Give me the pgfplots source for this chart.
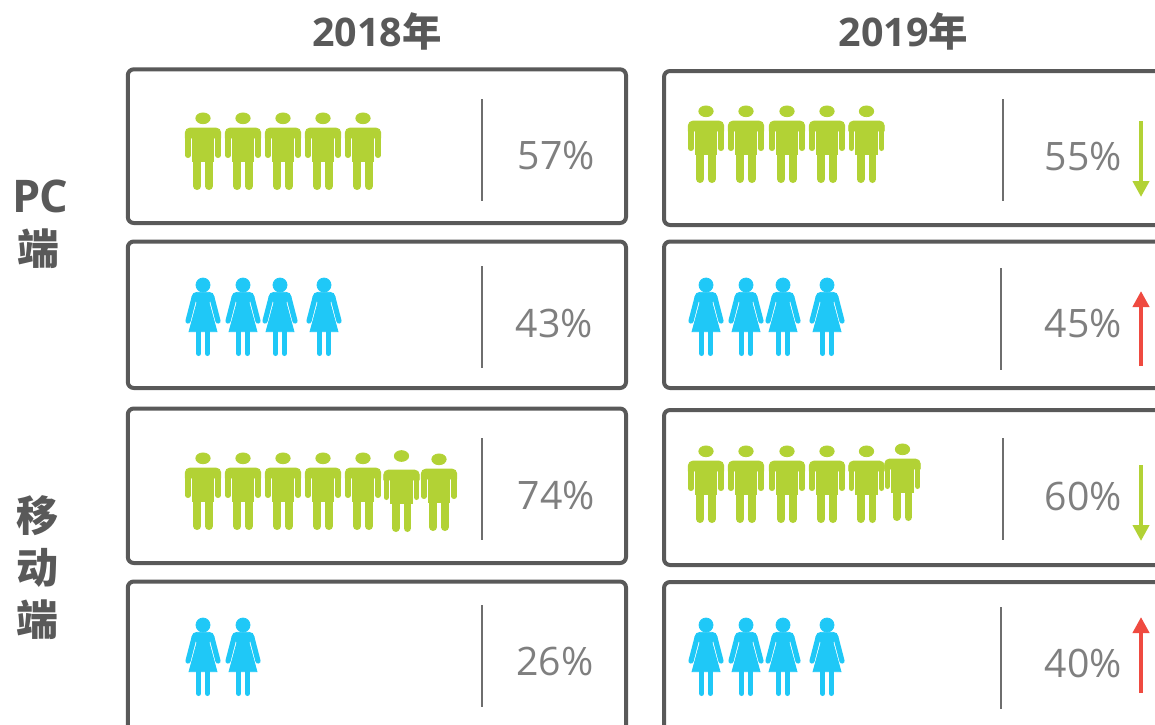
\documentclass[border=0pt]{standalone}
\usepackage{fontspec}
\setmainfont{Open Sans}
\newfontfamily\cjk{Noto Sans CJK SC}
\usepackage{pgfplots}
\pgfplotsset{compat=1.18}
\usetikzlibrary{arrows.meta}

\definecolor{mangreen}{HTML}{B2D235}
\definecolor{womanblue}{HTML}{1FC8F7}
\definecolor{upred}{HTML}{EF4A40}
\definecolor{boxgray}{HTML}{595959}
\definecolor{rulegray}{HTML}{6E6E6E}
\definecolor{pctgray}{HTML}{7F7F7F}

% icons, 1 reference pixel = 0.5pt, y running downwards
\newcommand\manbody{%
    \fill (-17.8,-12) {[rounded corners=2.4pt] -- (-17.8,-22) -- (17.8,-22)} -- (17.8,-12) -- cycle;
    \fill (-10.7,-21) rectangle (10.7,11.7);
    \draw[line width=2.7pt,line cap=round] (-15.1,-14) -- (-15.1,5.3);
    \draw[line width=2.7pt,line cap=round] (15.1,-14) -- (15.1,5.3);
    \draw[line width=3.85pt,line cap=round] (-5.85,10) -- (-5.85,36.15);
    \draw[line width=3.85pt,line cap=round] (5.85,10) -- (5.85,36.15);
}
\pgfdeclareplotmark{man}{%
  \begin{scope}[x=0.5pt,y=-0.5pt,fill=mangreen,draw=mangreen]
    \fill (0,-31.7) ellipse [x radius=7.2,y radius=5.4];
    \manbody
  \end{scope}}
\pgfdeclareplotmark{man low}{% the one figure whose head sits higher above the shoulders
  \begin{scope}[x=0.5pt,y=-0.5pt,fill=mangreen,draw=mangreen]
    \fill (0,-36) ellipse [x radius=7.2,y radius=5.4];
    \manbody
  \end{scope}}
\pgfdeclareplotmark{woman}{%
  \begin{scope}[x=0.5pt,y=-0.5pt,fill=womanblue,draw=womanblue]
    \fill (0,-35) circle [radius=7];
    \fill (-14,11.7) -- (-6,-17.7) -- (-11,-23)
      .. controls (-10.5,-26) and (-9,-27.7) .. (-6,-27.7) -- (6,-27.7)
      .. controls (9,-27.7) and (10.5,-26) .. (11,-23)
      -- (6,-17.7) -- (14,11.7) -- cycle;
    \draw[line width=2.6pt,line cap=round] (-8.7,-23.3) -- (-15,1);
    \draw[line width=2.6pt,line cap=round] (8.7,-23.3) -- (15,1);
    \draw[line width=2.5pt,line cap=round] (-4.2,10) -- (-4.2,33.5);
    \draw[line width=2.5pt,line cap=round] (4.2,10) -- (4.2,33.5);
  \end{scope}}

\begin{document}
\begin{tikzpicture}
\useasboundingbox (0,0) rectangle (577.5pt,362pt);
\begin{axis}[
    anchor=south west,
    at={(0,0)},
    scale only axis,
    width=577.5pt,
    height=362pt,
    xmin=0, xmax=1155,
    ymin=0, ymax=724,
    y dir=reverse,
    hide axis,
    clip=true
]
% panels
\draw[boxgray,line width=2pt,rounded corners=3pt] (127.8,69.3) rectangle (626,223);
\draw[boxgray,line width=2pt,rounded corners=3pt] (127.8,241.5) rectangle (626,388);
\draw[boxgray,line width=2pt,rounded corners=3pt] (127.8,408.5) rectangle (626,563);
\draw[boxgray,line width=2pt,rounded corners=3pt] (127.8,581.5) rectangle (626,740);
\draw[boxgray,line width=2pt,rounded corners=3pt] (664,71) rectangle (1170,225);
\draw[boxgray,line width=2pt,rounded corners=3pt] (664,241.5) rectangle (1170,388);
\draw[boxgray,line width=2pt,rounded corners=3pt] (664,410) rectangle (1170,565);
\draw[boxgray,line width=2pt,rounded corners=3pt] (664,582) rectangle (1170,740);

% dividers
\addplot[rulegray,line width=1pt,forget plot] coordinates {(482,99) (482,201)};
\addplot[rulegray,line width=1pt,forget plot] coordinates {(482,266) (482,368)};
\addplot[rulegray,line width=1pt,forget plot] coordinates {(482,438) (482,540)};
\addplot[rulegray,line width=1pt,forget plot] coordinates {(482,605) (482,707)};
\addplot[rulegray,line width=1pt,forget plot] coordinates {(1003,99) (1003,201)};
\addplot[rulegray,line width=1pt,forget plot] coordinates {(1000.5,268) (1000.5,370)};
\addplot[rulegray,line width=1pt,forget plot] coordinates {(1003,438) (1003,540)};
\addplot[rulegray,line width=1pt,forget plot] coordinates {(1000.5,607) (1000.5,709)};

% men
\addplot[only marks,mark=man] coordinates {
    (203,150) (243,150) (283,150) (323,150) (363,150)
};
\addplot[only marks,mark=man] coordinates {
    (203,490) (243,490) (283,490) (323,490) (363,490) (439,491)
};
\addplot[only marks,mark=man low] coordinates {(401.5,492)};
\addplot[only marks,mark=man] coordinates {
    (706,143) (746,143) (787,143) (827,143) (866.5,143)
};
\addplot[only marks,mark=man] coordinates {
    (706,483) (746,483) (787,483) (827,483) (866.5,483) (902.5,481)
};

% women
\addplot[only marks,mark=woman] coordinates {
    (203,320) (243,320) (280,320) (324,320)
};
\addplot[only marks,mark=woman] coordinates {
    (203,660) (243,660)
};
\addplot[only marks,mark=woman] coordinates {
    (706,320) (746,320) (783,320) (827,320)
};
\addplot[only marks,mark=woman] coordinates {
    (706,660) (746,660) (783,660) (827,660)
};

% change arrows
\addplot[mangreen,line width=2pt,-{Triangle[length=8pt,width=8pt]}] coordinates {(1141,121) (1141,197)};
\addplot[upred,line width=2pt,-{Triangle[length=8pt,width=8pt]}] coordinates {(1141,366) (1141,291)};
\addplot[mangreen,line width=2pt,-{Triangle[length=8pt,width=8pt]}] coordinates {(1141,465) (1141,541)};
\addplot[upred,line width=2pt,-{Triangle[length=8pt,width=8pt]}] coordinates {(1141,693) (1141,617)};

% percentages
\tikzset{pct/.style={text=pctgray,font=\fontsize{19.6}{22}\selectfont,inner sep=0pt}}
\node[pct] at (556.5,155.2) {57\%};
\node[pct] at (554.5,323.2) {43\%};
\node[pct] at (556.5,495.2) {74\%};
\node[pct] at (555,661.2) {26\%};
\node[pct] at (1083.5,156.2) {55\%};
\node[pct] at (1083.5,323.2) {45\%};
\node[pct] at (1083.5,496.2) {60\%};
\node[pct] at (1083.5,663.2) {40\%};

% headers
\tikzset{head/.style={text=boxgray,font=\fontsize{19.7}{22}\selectfont\bfseries,inner sep=0pt}}
\node[head] at (377,31) {2018{\cjk 年}};
\node[head] at (903.5,31) {2019{\cjk 年}};
\node[head,font=\fontsize{22.5}{24}\selectfont\bfseries] at (40,196.5) {P\kern-0.5pt C};
\node[head,font=\fontsize{21}{22}\selectfont\bfseries\cjk] at (39,249) {端};
\node[head,font=\fontsize{21}{22}\selectfont\bfseries\cjk] at (38,516) {移};
\node[head,font=\fontsize{21}{22}\selectfont\bfseries\cjk] at (38,568) {动};
\node[head,font=\fontsize{21}{22}\selectfont\bfseries\cjk] at (38,620) {端};
\end{axis}
\end{tikzpicture}
\end{document}
